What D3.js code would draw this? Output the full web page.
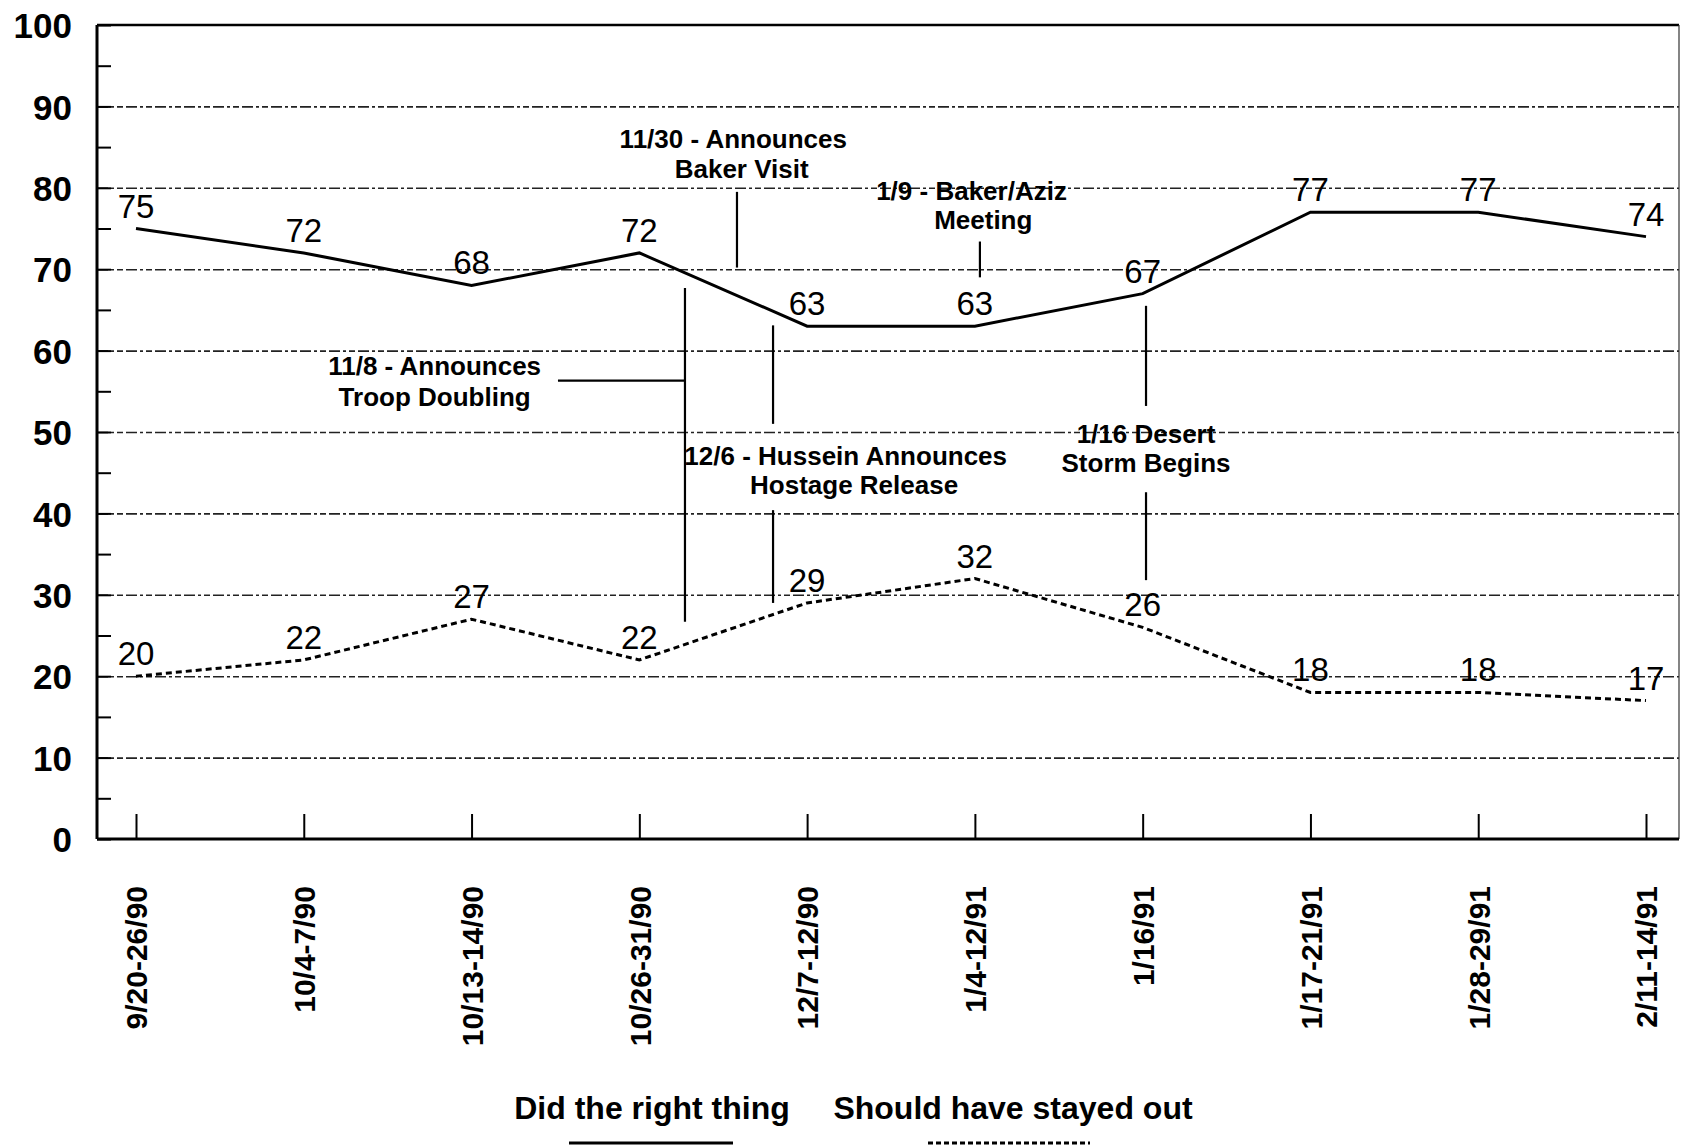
<!DOCTYPE html>
<html>
<head>
<meta charset="utf-8">
<script src="https://cdn.jsdelivr.net/npm/d3@7/dist/d3.min.js"></script>
<style>
  html, body { margin: 0; padding: 0; background: #fff; }
  svg { display: block; }
  text { font-family: "Liberation Sans", Arial, Helvetica, sans-serif; fill: #000; }
</style>
</head>
<body>
<svg id="chart" width="1683" height="1145"></svg>
<script>
// ---- data ----
const categories = ["9/20-26/90", "10/4-7/90", "10/13-14/90", "10/26-31/90", "12/7-12/90",
                    "1/4-12/91", "1/16/91", "1/17-21/91", "1/28-29/91", "2/11-14/91"];
const didRightThing = [75, 72, 68, 72, 63, 63, 67, 77, 77, 74];
const shouldHaveStayedOut = [20, 22, 27, 22, 29, 32, 26, 18, 18, 17];
const yTickValues = [0, 10, 20, 30, 40, 50, 60, 70, 80, 90, 100];
const yMinorTicks = [5, 15, 25, 35, 45, 55, 65, 75, 85, 95];
const seriesNames = ["Did the right thing", "Should have stayed out"];
// events: text lines, anchor in (category index, value) units
const eventTexts = [
  ["11/8 - Announces", "Troop Doubling"],
  ["12/6 - Hussein Announces", "Hostage Release"],
  ["11/30 - Announces", "Baker Visit"],
  ["1/9 - Baker/Aziz", "Meeting"],
  ["1/16 Desert", "Storm Begins"]
];
const eventTextPos = [ // [index, value] for each line's centre/baseline
  [[1.78, 57.0], [1.78, 53.2]],
  [[4.23, 45.95], [4.28, 42.4]],
  [[3.56, 84.9], [3.61, 81.2]],
  [[4.98, 78.5], [5.05, 74.9]],
  [[6.02, 48.6], [6.02, 45.05]]
];
const eventLeaders = [ // segments [[i1,v1],[i2,v2]]
  [[[3.272, 67.7], [3.272, 26.7]], [[2.515, 56.3], [3.272, 56.3]]],
  [[[3.797, 63.1], [3.797, 51.0]], [[3.797, 40.4], [3.797, 29.0]]],
  [[[3.582, 79.5], [3.582, 70.2]]],
  [[[5.03, 73.4], [5.03, 69.0]]],
  [[[6.02, 65.5], [6.02, 53.2]], [[6.02, 42.6], [6.02, 31.8]]]
];

// ---- layout ----
const svg = d3.select("#chart");
const M = { left: 97, right: 1679, top: 25, bottom: 839 };
const x = d3.scalePoint().domain(categories).range([136, 1646]);
const xi = d3.scaleLinear().domain([0, categories.length - 1]).range([136, 1646]);
const y = d3.scaleLinear().domain([0, 100]).range([M.bottom, M.top]);

// gridlines
const grid = svg.append("g").attr("transform", `translate(${M.left},0)`)
  .call(d3.axisLeft(y).tickValues(yTickValues.filter(v => v > 0 && v < 100))
        .tickSize(-(M.right - M.left)).tickFormat(""));
grid.select(".domain").remove();
grid.selectAll("line").attr("stroke", "#222").attr("stroke-width", 1.6)
  .attr("stroke-dasharray", "11,3,3,3,6,3");

// minor ticks
const minor = svg.append("g").attr("transform", `translate(${M.left},0)`)
  .call(d3.axisLeft(y).tickValues(yMinorTicks).tickSize(-14).tickFormat(""));
minor.select(".domain").remove();
minor.selectAll("line").attr("stroke", "#000").attr("stroke-width", 2);

// major short ticks
const major = svg.append("g").attr("transform", `translate(${M.left},0)`)
  .call(d3.axisLeft(y).tickValues(yTickValues).tickSize(-14).tickFormat(""));
major.select(".domain").remove();
major.selectAll("line").attr("stroke", "#000").attr("stroke-width", 2);

// y labels
const yLab = svg.append("g").attr("transform", `translate(${M.left},0)`)
  .call(d3.axisLeft(y).tickValues(yTickValues).tickSize(0).tickPadding(25));
yLab.select(".domain").remove();
yLab.selectAll("text").style("font-size", "35px").style("font-weight", "bold")
  .attr("dy", "0.36em");

// frame
svg.append("line").attr("x1", M.left).attr("x2", M.right).attr("y1", y(100)).attr("y2", y(100))
  .attr("stroke", "#000").attr("stroke-width", 2.5);
svg.append("line").attr("x1", M.left).attr("x2", M.left).attr("y1", y(100)).attr("y2", y(0))
  .attr("stroke", "#000").attr("stroke-width", 3);
svg.append("line").attr("x1", M.right).attr("x2", M.right).attr("y1", y(100)).attr("y2", y(0))
  .attr("stroke", "#333").attr("stroke-width", 1.2);

// x axis
const xAxis = svg.append("g").attr("transform", `translate(0,${M.bottom})`)
  .call(d3.axisBottom(x).tickSize(-25).tickPadding(0));
xAxis.select(".domain").attr("d", `M${M.left},0H${M.right}`).attr("stroke", "#000").attr("stroke-width", 3);
xAxis.selectAll(".tick line").attr("stroke", "#000").attr("stroke-width", 2);
xAxis.selectAll(".tick text")
  .style("font-size", "30px").style("font-weight", "bold")
  .attr("text-anchor", "end")
  .attr("transform", "translate(0,47) rotate(-90)")
  .attr("x", 0).attr("y", 0).attr("dy", "0.36em");

// series
const line = d3.line().x((d, i) => x(categories[i])).y(d => y(d));
svg.append("path").datum(didRightThing).attr("d", line)
  .attr("fill", "none").attr("stroke", "#000").attr("stroke-width", 3);
svg.append("path").datum(shouldHaveStayedOut).attr("d", line)
  .attr("fill", "none").attr("stroke", "#000").attr("stroke-width", 3)
  .attr("stroke-dasharray", "6,4");

// value labels
[didRightThing, shouldHaveStayedOut].forEach(series => {
  svg.append("g").selectAll("text").data(series).join("text")
    .attr("x", (d, i) => x(categories[i]))
    .attr("y", d => y(d) - 11)
    .attr("text-anchor", "middle")
    .style("font-size", "33px")
    .text(d => d);
});

// events
eventLeaders.forEach(segs => {
  segs.forEach(s => {
    svg.append("line")
      .attr("x1", xi(s[0][0])).attr("y1", y(s[0][1]))
      .attr("x2", xi(s[1][0])).attr("y2", y(s[1][1]))
      .attr("stroke", "#000").attr("stroke-width", 2.2);
  });
});
eventTexts.forEach((lines, k) => {
  lines.forEach((t, j) => {
    const p = eventTextPos[k][j];
    svg.append("text").attr("x", xi(p[0])).attr("y", y(p[1]))
      .attr("text-anchor", "middle")
      .style("font-size", "26px").style("font-weight", "bold")
      .text(t);
  });
});

// legend
const legendCenters = [652, 1013];
const legendSamples = [[569, 733], [928, 1090]];
seriesNames.forEach((n, k) => {
  svg.append("text").attr("x", legendCenters[k]).attr("y", 1119)
    .attr("text-anchor", "middle").style("font-size", "32px").style("font-weight", "bold")
    .text(n);
  svg.append("line").attr("x1", legendSamples[k][0]).attr("x2", legendSamples[k][1])
    .attr("y1", 1143).attr("y2", 1143).attr("stroke", "#000").attr("stroke-width", 3)
    .attr("stroke-dasharray", k === 1 ? "5,3" : null);
});
</script>
</body>
</html>
